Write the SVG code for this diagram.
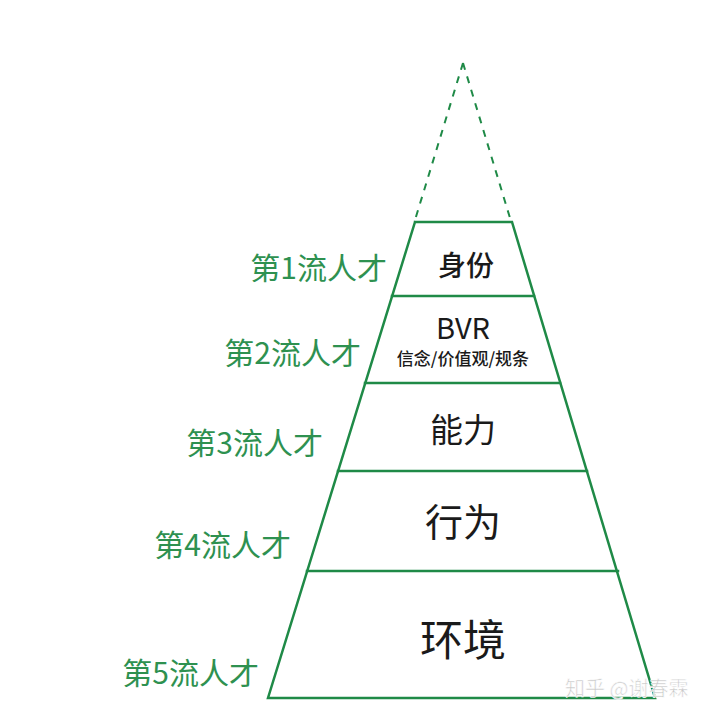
<svg xmlns="http://www.w3.org/2000/svg" width="720" height="720" viewBox="0 0 720 720">
<style>
.edge{stroke:#1f8a47;stroke-width:2.5;fill:none;stroke-linecap:square}
.dash{stroke:#1f8a47;stroke-width:2;fill:none;stroke-dasharray:7 7}
.lbl{font-family:"Noto Sans CJK SC","Noto Sans",sans-serif;fill:#2e9150;font-size:30px;text-anchor:end}
.in{font-family:"Noto Sans CJK SC","Noto Sans",sans-serif;fill:#1a1a1a;text-anchor:middle}
.wm{font-family:"Noto Sans CJK SC","Noto Sans",sans-serif;fill:#c8c8c8;font-size:20px;stroke:#ffffff;stroke-width:0.6}
</style>
<rect width="720" height="720" fill="#ffffff"/>
<g id="connectors">
<line class="dash" x1="463" y1="63" x2="415" y2="220"/>
<line class="dash" x1="463" y1="63" x2="510" y2="218"/>
<polyline class="edge" points="415,222 268,698 655,698 512,222 415,222"/>
<line class="edge" x1="392" y1="296" x2="534" y2="296"/>
<line class="edge" x1="365" y1="383" x2="560" y2="383"/>
<line class="edge" x1="338" y1="471" x2="587" y2="471"/>
<line class="edge" x1="307" y1="571" x2="618" y2="571"/>
</g>
<g id="level1"><text class="in" x="466" y="276" font-size="28" font-weight="500">身份</text><text class="lbl" x="387" y="279">第1流人才</text></g>
<g id="level2"><text class="in" x="463" y="339" font-size="29">BVR</text><text class="in" x="463" y="365" font-size="17" font-weight="500">信念/价值观/规条</text><text class="lbl" x="361" y="364">第2流人才</text></g>
<g id="level3"><text class="in" x="463" y="442" font-size="33">能力</text><text class="lbl" x="323" y="454">第3流人才</text></g>
<g id="level4"><text class="in" x="463" y="536" font-size="38">行为</text><text class="lbl" x="291" y="556">第4流人才</text></g>
<g id="level5"><text class="in" x="463" y="656" font-size="43">环境</text><text class="lbl" x="259" y="684">第5流人才</text></g>
<text class="wm" x="565" y="696">知乎 @谢春霖</text>
</svg>
